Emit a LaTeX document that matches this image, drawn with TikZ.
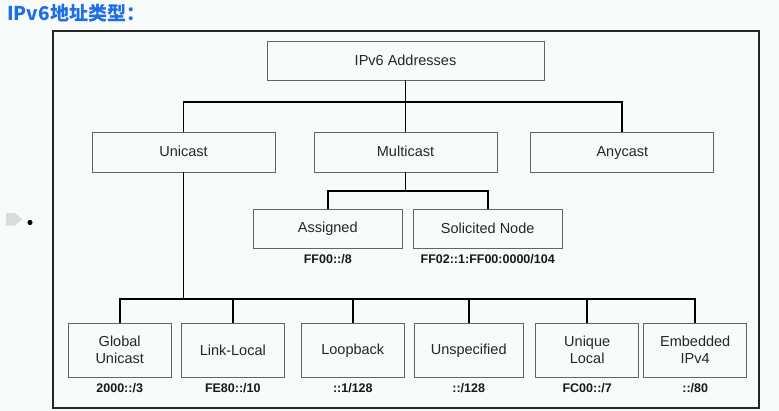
\documentclass[tikz,border=0pt]{standalone}
\usepackage{fontspec}
\setmainfont{Liberation Sans}
\newfontfamily\cjkfont{Noto Sans CJK SC}
\definecolor{bgc}{RGB}{247,251,249}
\definecolor{titleblue}{RGB}{30,110,230}
\definecolor{boxgray}{RGB}{100,100,100}
\newcommand\bstr{\rule[-2pt]{0pt}{14pt}}
\begin{document}
\begin{tikzpicture}[x=1pt,y=-1pt,
  box/.style={draw=boxgray,line width=0.9pt,fill=bgc,inner sep=0pt,align=center,text=black!85,font=\fontsize{14.5}{17}\selectfont},
  addr/.style={font=\bfseries\fontsize{12.5}{14}\selectfont,inner sep=0pt,text=black!90},
  conn/.style={draw=black,line width=1.8pt}]
\useasboundingbox (0,0) rectangle (779,411);
\fill[bgc] (0,0) rectangle (779,411);
% title
\node[anchor=west,inner sep=0pt,text=titleblue,font=\cjkfont\bfseries\fontsize{19}{22}\selectfont] (title) at (7,13) {IPv6地址类型：};
% bullet artefacts
\fill[black!14] (6,213) -- (15,213) -- (22,219.3) -- (15,225.7) -- (6,225.7) -- cycle;
\fill[black] (30,222.5) circle (2.6);
% frame
\draw[line width=2pt,draw=black!85] (52.5,31) rectangle (759,408);
% nodes
\node[box,minimum width=277pt,minimum height=39pt] (root) at (405.5,60.5) {\bstr IPv6 Addresses};
\node[box,minimum width=183pt,minimum height=40pt] (uni) at (183.5,152) {\bstr Unicast};
\node[box,minimum width=183pt,minimum height=40pt] (multi) at (405.5,152) {\bstr Multicast};
\node[box,minimum width=183pt,minimum height=40pt] (any) at (622.3,152) {\bstr Anycast};
\node[box,minimum width=149pt,minimum height=39pt] (asg) at (327.8,228.5) {\bstr Assigned};
\node[box,minimum width=149pt,minimum height=39pt] (sol) at (487.7,228.5) {\bstr Solicited Node};
\node[addr] (asgl) at (327.8,259) {FF00::/8};
\node[addr] (soll) at (487.7,259) {FF02::1:FF00:0000/104};
\node[box,minimum width=103pt,minimum height=54pt] (glob) at (119.7,350.3) {\bstr Global\\\bstr Unicast};
\node[box,minimum width=103pt,minimum height=54pt] (link) at (232.8,350.3) {\bstr Link-Local};
\node[box,minimum width=103pt,minimum height=54pt] (loop) at (352.8,350.3) {\bstr Loopback};
\node[box,minimum width=109pt,minimum height=54pt] (unsp) at (468.7,350.3) {\bstr Unspecified};
\node[box,minimum width=103pt,minimum height=54pt] (uloc) at (587.2,350.3) {\bstr Unique\\\bstr Local};
\node[box,minimum width=103pt,minimum height=54pt] (emb) at (695.2,350.3) {\bstr Embedded\\\bstr IPv4};
\node[addr] (globl) at (119.7,388.5) {2000::/3};
\node[addr] (linkl) at (232.8,388.5) {FE80::/10};
\node[addr] (loopl) at (352.8,388.5) {::1/128};
\node[addr] (unspl) at (468.7,388.5) {::/128};
\node[addr] (ulocl) at (587.2,388.5) {FC00::/7};
\node[addr] (embl) at (695.2,388.5) {::/80};
% connectors
\coordinate (j1) at (405.5,102.3);
\draw[conn] (root.south) -- (multi.north);
\draw[conn] (uni.north) |- (j1) -| (any.north);
\coordinate (j2) at (405.5,190.7);
\draw[conn] (multi.south) -- (j2);
\draw[conn] (asg.north) |- (j2) -| (sol.north);
\coordinate (j3) at (183.5,299.3);
\draw[conn] (uni.south) -- (j3);
\draw[conn] (glob.north) |- (j3) -| (emb.north);
\draw[conn] (link.north) -- (link.north |- j3);
\draw[conn] (loop.north) -- (loop.north |- j3);
\draw[conn] (unsp.north) -- (unsp.north |- j3);
\draw[conn] (uloc.north) -- (uloc.north |- j3);
\end{tikzpicture}
\end{document}
